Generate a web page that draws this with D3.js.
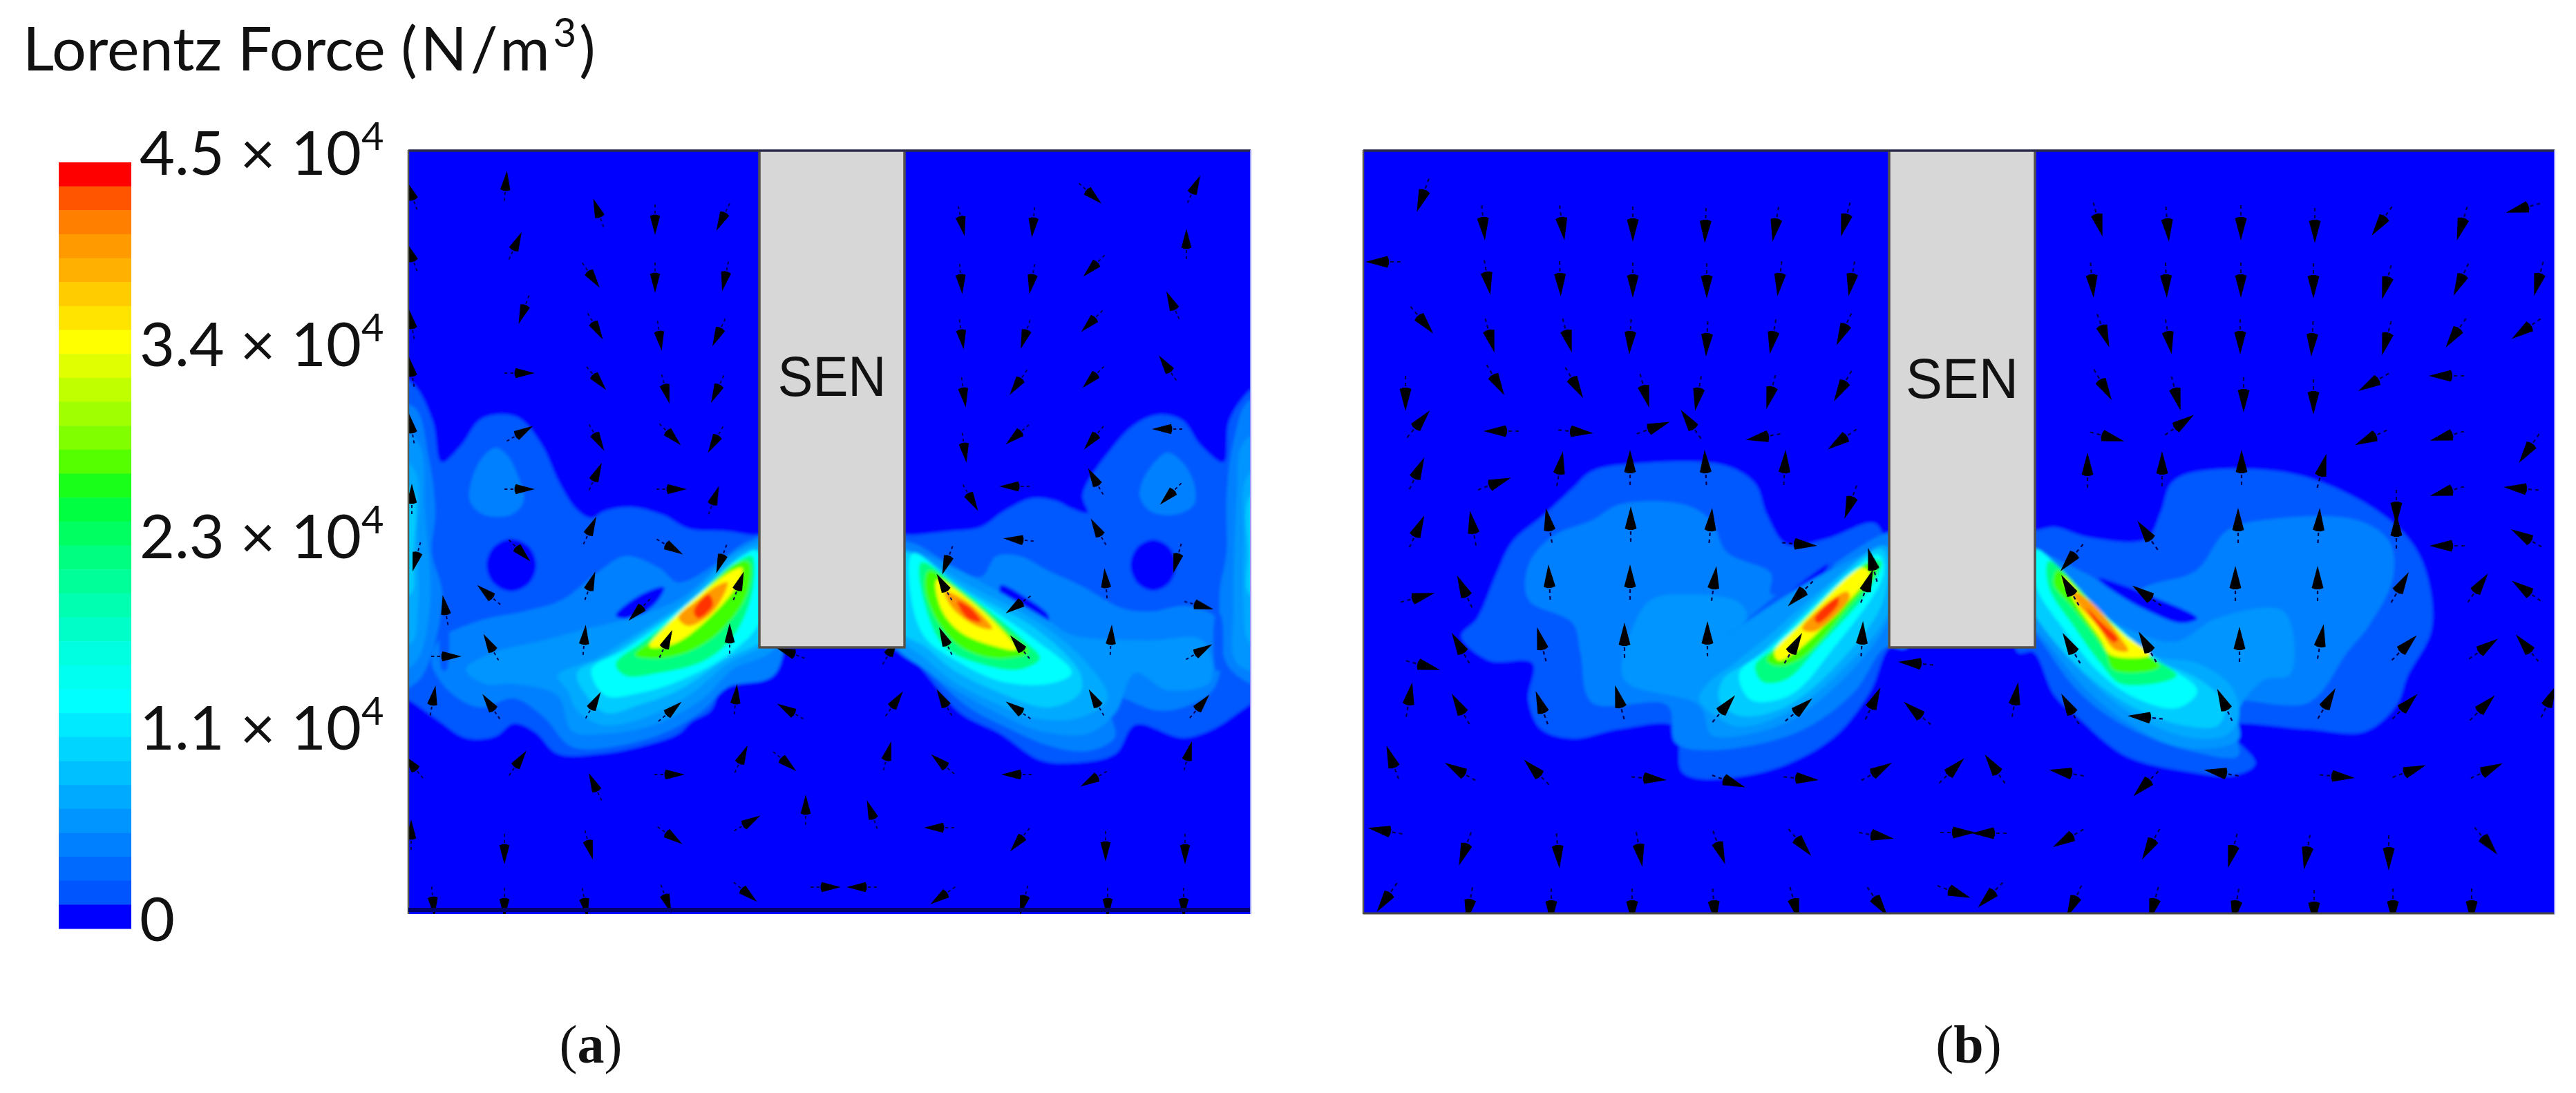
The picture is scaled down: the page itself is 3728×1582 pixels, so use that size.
<!DOCTYPE html>
<html><head><meta charset="utf-8">
<script src="https://cdn.jsdelivr.net/npm/d3@7"></script>
<style>html,body{margin:0;padding:0;background:#fff}svg{display:block}</style>
</head><body><div id="chart"></div>
<script>
const bandColors = ["#ff0000","#ff5500","#ff8000","#ff9a00","#ffb000","#ffcc00","#ffe400","#ffff00",
 "#e0ff00","#c0ff00","#a0ff00","#80ff00","#55ff00","#1aff1a","#00ff40","#00ff60","#00ff80","#00ff99",
 "#00ffb0","#00ffc8","#00ffe0","#00fff0","#00ffff","#00eaff","#00d5ff","#00c0ff","#00aaff","#0095ff",
 "#0080ff","#006aff","#0055ff","#0000ff"];
const tickLabels = ["0","1.1","2.3","3.4","4.5"];
const tickExponents = ["","4","4","4","4"];
const titleParts = ["Lorentz Force ","(N/m","3",")"];
const panelLabels = ["a","b"];
const insertLabel = "SEN";
// contour level colours: level 0 is the background value
const levelColors = ["#0000ff","#0058ff","#0080ff","#0095ff","#00aaff","#00ccff","#00ffff","#00ff80","#40ff00","#ffff00","#ff9900","#ff3000"];

// ---- iso-value outlines [level, [[x,y]...]], in picture coordinates
const fieldA = [
 [1,[[560,540],[597,555],[626,609],[639,669],[668,644],[693,609],[718,600],[751,605],[784,644],[809,698],[834,737],[856,750],[874,740],[912,734],[961,746],[996,765],[1053,769],[1084,774],[1125,780],[1125,940],[1100,940],[1075,965],[1046,986],[1029,1028],[1000,1045],[982,1062],[933,1079],[870,1091],[807,1091],[775,1060],[744,1047],[716,1066],[674,1068],[632,1041],[591,1013],[560,1000]]],
 [1,[[1850,540],[1810,564],[1779,609],[1771,669],[1737,644],[1712,609],[1679,600],[1646,612],[1613,644],[1567,716],[1574,742],[1551,736],[1528,725],[1494,721],[1453,740],[1419,763],[1373,769],[1327,774],[1285,780],[1285,940],[1310,940],[1339,974],[1390,1032],[1448,1062],[1505,1100],[1557,1104],[1614,1091],[1643,1049],[1712,1068],[1758,1054],[1809,1020],[1850,1000]]],
 [0,[[704,818],[714,792],[740,780],[766,792],[776,818],[766,844],[740,856],[714,844]]],
 [0,[[1636,818],[1646,792],[1669,781],[1692,792],[1702,818],[1692,844],[1669,855],[1646,844]]],
 [2,[[684,690],[700,660],[718,648],[735,660],[750,690],[758,725],[740,745],[700,745],[680,725]]],
 [2,[[1652,700],[1670,670],[1690,655],[1712,670],[1728,700],[1728,730],[1700,745],[1665,740],[1650,720]]],
 [2,[[560,590],[600,590],[620,660],[630,740],[625,800],[640,860],[620,960],[600,990],[560,1000]]],
 [2,[[1850,590],[1808,580],[1785,640],[1775,720],[1775,800],[1765,860],[1775,960],[1810,990],[1850,1000]]],
 [3,[[560,620],[605,640],[615,740],[622,880],[600,960],[560,970]]],
 [3,[[1850,620],[1800,640],[1790,720],[1785,880],[1790,960],[1850,970]]],
 [4,[[560,660],[600,680],[604,780],[605,880],[596,930],[560,940]]],
 [4,[[1850,660],[1805,690],[1800,780],[1800,880],[1808,930],[1850,940]]],
 [5,[[560,690],[597,710],[598,800],[594,860],[560,860]]],
 [5,[[1850,690],[1808,720],[1806,800],[1808,860],[1850,860]]],
 [2,[[635,927],[695,898],[758,885],[814,868],[863,830],[905,805],[954,822],[982,843],[1039,814],[1081,784],[1123,776],[1123,974],[1053,995],[1018,1028],[968,1058],[898,1079],[828,1081],[786,1037],[744,1011],[695,1024],[653,1003],[625,961]]],
 [2,[[1321,786],[1380,820],[1420,835],[1442,805],[1476,805],[1517,826],[1563,847],[1626,881],[1666,885],[1718,877],[1763,898],[1758,995],[1712,1024],[1672,1028],[1597,1003],[1614,1066],[1574,1087],[1517,1079],[1459,1054],[1402,1024],[1339,969],[1290,930],[1290,786]]],
 [0,[[891,891],[925,862],[961,850],[950,872],[915,895]]],
 [0,[[1448,847],[1485,865],[1517,890],[1517,900],[1480,895],[1450,868]]],
 [1,[[640,889],[646,889],[646,970],[640,970]]],
 [1,[[1760,889],[1766,889],[1766,970],[1760,970]]],
 [0,[[1088,898],[1110,898],[1110,936],[1088,930]]],
 [0,[[1300,906],[1324,906],[1324,927],[1300,930]]],
 [3,[[674,969],[716,944],[786,927],[849,910],[898,898],[982,868],[1067,797],[1123,780],[1123,936],[1060,969],[1018,1011],[947,1049],[877,1062],[828,1058],[807,1007],[744,990],[702,990]]],
 [3,[[1300,797],[1321,797],[1413,839],[1517,898],[1551,919],[1660,927],[1740,927],[1752,986],[1689,999],[1643,974],[1614,1032],[1574,1062],[1505,1058],[1453,1037],[1390,1003],[1339,969],[1300,936]]],
 [4,[[807,978],[863,953],[905,927],[982,877],[1074,797],[1123,790],[1123,919],[1053,961],[996,1007],[926,1041],[870,1049],[835,1028],[821,999]]],
 [4,[[1300,801],[1321,801],[1402,847],[1505,902],[1574,961],[1603,1011],[1568,1037],[1505,1041],[1436,1016],[1379,986],[1339,953],[1300,919]]],
 [5,[[835,974],[884,948],[933,915],[989,877],[1081,801],[1123,801],[1123,910],[1046,957],[982,999],[926,1020],[877,1032],[849,1007]]],
 [5,[[1300,801],[1321,801],[1402,856],[1499,910],[1563,974],[1563,1003],[1517,1024],[1448,1003],[1379,969],[1339,936],[1300,910]]],
 [6,[[856,969],[905,940],[954,906],[996,873],[1074,805],[1095,797],[1100,898],[1053,948],[982,986],[926,1003],[877,1007]]],
 [6,[[1321,801],[1390,852],[1494,923],[1551,974],[1517,990],[1448,986],[1385,957],[1339,923],[1319,868]]],
 [7,[[891,961],[933,927],[975,894],[1011,864],[1074,809],[1088,805],[1088,860],[1060,923],[1018,957],[954,974],[905,978]]],
 [7,[[1333,814],[1390,852],[1482,927],[1505,953],[1476,969],[1419,961],[1367,936],[1339,877]]],
 [8,[[919,948],[954,919],[996,877],[1067,814],[1084,814],[1081,860],[1046,910],[1004,940],[954,953]]],
 [8,[[1344,826],[1390,856],[1459,915],[1488,944],[1442,953],[1390,936],[1356,898],[1339,852]]],
 [9,[[940,936],[968,902],[1004,868],[1060,826],[1074,822],[1067,847],[1018,902],[975,932]]],
 [9,[[1356,839],[1402,868],[1453,915],[1471,940],[1442,936],[1390,915],[1362,881]]],
 [10,[[982,894],[1011,868],[1039,847],[1053,843],[1032,885],[996,906]]],
 [10,[[1367,856],[1402,873],[1436,910],[1413,906],[1379,881]]],
 [11,[[1004,885],[1025,860],[1032,875],[1011,895]]],
 [11,[[1385,870],[1405,880],[1420,900],[1400,895]]]
];
const fieldB = [
 [1,[[2367,671],[2494,673],[2540,700],[2557,745],[2586,788],[2643,780],[2712,757],[2732,780],[2760,780],[2760,937],[2735,937],[2706,1002],[2649,1071],[2545,1119],[2436,1119],[2425,1052],[2344,1055],[2276,1069],[2230,1055],[2212,1013],[2218,960],[2155,956],[2115,921],[2138,895],[2166,830],[2189,784],[2235,745],[2276,707],[2304,682]]],
 [1,[[2920,768],[2945,768],[2973,763],[3024,778],[3106,780],[3127,742],[3142,700],[3172,684],[3310,684],[3412,722],[3479,772],[3509,822],[3519,910],[3484,979],[3468,1021],[3422,1059],[3336,1055],[3223,1052],[3264,1105],[3234,1122],[3167,1117],[3076,1094],[3009,1040],[2973,1006],[2943,944],[2920,944]]],
 [2,[[2344,730],[2436,730],[2476,753],[2499,799],[2563,830],[2563,860],[2631,830],[2729,772],[2760,772],[2760,937],[2729,937],[2683,1002],[2603,1059],[2476,1086],[2425,1075],[2413,1021],[2304,1017],[2287,944],[2276,902],[2212,868],[2212,818],[2247,776],[2304,753]]],
 [2,[[3116,845],[3178,826],[3223,768],[3290,751],[3412,753],[3458,784],[3463,837],[3428,906],[3397,944],[3341,1017],[3223,1017],[3234,1059],[3239,1094],[3167,1086],[3070,1048],[3009,1002],[2963,941],[2930,887],[2930,799],[3019,830],[3070,860]]],
 [1,[[2517,914],[2560,870],[2640,810],[2660,800],[2640,840],[2570,890],[2530,925]]],
 [0,[[2583,868],[2646,816],[2637,833],[2591,872]]],
 [0,[[3037,837],[3116,864],[3180,895],[3157,902],[3106,883],[3065,860]]],
 [3,[[2390,868],[2431,860],[2517,872],[2528,895],[2499,918],[2640,830],[2729,799],[2735,891],[2660,990],[2580,1048],[2499,1067],[2476,1063],[2459,1021],[2350,983],[2367,899]]],
 [3,[[3208,895],[3305,885],[3315,975],[3275,985],[3239,1030],[3239,1071],[3157,1082],[3076,1044],[3019,998],[2968,937],[2930,887],[2930,830],[3055,899],[3147,929]]],
 [4,[[2471,990],[2510,960],[2560,920],[2640,850],[2729,790],[2735,880],[2660,975],[2586,1032],[2517,1052],[2488,1040],[2459,1013]]],
 [4,[[2930,810],[3040,900],[3120,950],[3180,960],[3230,995],[3240,1040],[3220,1065],[3157,1065],[3080,1030],[3020,980],[2970,920],[2930,870]]],
 [5,[[2494,983],[2540,952],[2723,795],[2726,868],[2654,967],[2580,1025],[2517,1036],[2488,1013]]],
 [5,[[2930,800],[3040,895],[3110,950],[3185,985],[3220,1020],[3210,1050],[3160,1050],[3090,1025],[3030,985],[2970,925],[2930,860]]],
 [6,[[2517,975],[2563,937],[2718,803],[2726,830],[2649,944],[2591,1006],[2534,1013]]],
 [6,[[2945,795],[3040,885],[3115,950],[3180,1000],[3150,1025],[3090,1010],[3040,975],[2990,915],[2945,845]]],
 [7,[[2540,964],[2574,933],[2712,810],[2723,814],[2700,860],[2631,937],[2586,983],[2551,987]]],
 [7,[[2965,812],[3040,885],[3105,945],[3150,978],[3070,990],[3040,960],[3000,905],[2965,850]]],
 [8,[[2557,956],[2580,929],[2706,814],[2715,826],[2672,883],[2608,952],[2574,964]]],
 [8,[[2978,825],[3030,875],[3085,930],[3125,965],[3060,970],[3045,940],[3000,880],[2972,845]]],
 [9,[[2568,944],[2608,902],[2695,822],[2706,830],[2654,891],[2603,940],[2574,956]]],
 [9,[[2985,835],[3030,880],[3075,920],[3112,948],[3055,948],[3040,925],[3005,875]]],
 [10,[[2608,910],[2672,856],[2677,864],[2626,914]]],
 [10,[[2998,855],[3030,875],[3070,925],[3080,942],[3060,940],[3035,905],[3008,875]]],
 [11,[[2626,895],[2660,864],[2660,875],[2631,902]]],
 [11,[[3020,880],[3040,900],[3065,925],[3060,930],[3035,905]]]
];

// ---- force vectors [x, y, heading in degrees clockwise from up]
const arrowsA = [
 [595,280,-20],[732,266,5],[865,305,-20],[948,321,180],[1045,317,206],[1392,323,168],[1495,325,185],[1580,282,132],[1729,271,25],
 [595,369,-20],[747,353,25],[857,401,145],[948,405,180],[1049,403,192],[1391,407,175],[1493,407,190],[1581,387,225],[1717,350,0],
 [595,466,-10],[757,451,200],[863,475,150],[955,489,172],[1039,484,205],[1392,487,172],[1483,487,198],[1578,467,225],[1696,439,-25],
 [595,535,-10],[755,540,90],[865,550,140],[964,566,165],[1037,566,205],[1395,571,172],[1472,556,215],[1580,548,225],[1688,530,-35],
 [595,617,-10],[755,626,60],[865,636,150],[972,631,135],[1034,639,210],[1396,651,172],[1470,631,230],[1581,636,220],[1686,621,270],
 [596,719,0],[755,708,90],[863,687,25],[975,708,90],[1034,721,20],[1406,723,150],[1465,704,270],[1584,694,-30],[1692,717,225],
 [602,809,195],[855,765,25],[972,793,120],[1043,812,200],[754,799,135],[1370,814,200],[1471,781,275],[1588,767,-30],[1703,811,195],[1600,841,-5],
 [705,859,-50],[855,845,20],[923,885,225],[1070,845,20],[1365,847,-30],[1471,877,235],[1738,877,105],
 [644,880,-10],[649,950,90],[709,934,-30],[846,923,5],[965,929,25],[1056,921,0],[1367,925,-25],[1474,934,-40],[1608,923,3],[1738,942,60],[1141,944,290],[1290,940,30],
 [627,1011,10],[709,1020,-35],[860,1018,30],[972,1028,50],[1065,1009,5],[1141,1028,-60],[1296,1016,35],[1365,1014,-30],[1471,1026,-55],[1585,1014,-30],[1738,1020,40],
 [596,1107,-40],[751,1102,35],[972,1121,90],[860,1136,-25],[1074,1096,25],[1138,1104,130],[1285,1091,15],[1362,1104,-50],[1468,1121,270],[1580,1129,240],[1720,1091,15],
 [595,1205,0],[730,1232,180],[853,1226,165],[972,1211,125],[1084,1190,60],[1166,1169,0],[1261,1176,-20],[1356,1198,270],[1474,1218,220],[1600,1228,180],[1715,1232,180],
 [627,1308,175],[730,1310,180],[847,1310,170],[965,1304,160],[1081,1293,130],[1198,1284,90],[1244,1284,270],[1362,1298,235],[1481,1306,195],[1603,1310,180],[1713,1310,180]
];
const arrowsB = [
 [2058,286,200],[2147,326,175],[2261,326,172],[2363,328,180],[2468,330,182],[2569,328,190],[2670,321,195],[3037,321,165],[3137,328,175],[3243,326,180],[3350,330,180],[3445,323,215],[3562,327,197],[3648,302,255],
 [1998,379,270],[2153,405,170],[2258,407,178],[2363,409,180],[2470,410,180],[2575,407,187],[2679,407,190],[3028,409,175],[3135,409,178],[3243,409,180],[3348,410,180],[3453,412,195],[3560,408,205],[3673,407,195],
 [2060,466,140],[2157,489,165],[2269,489,165],[2359,491,183],[2470,494,183],[2565,491,190],[2667,480,205],[3045,482,160],[3139,491,170],[3242,491,180],[3346,494,183],[3453,493,195],[3552,485,215],[3653,478,235],
 [2034,573,180],[2166,553,150],[2280,557,150],[2381,569,165],[2457,573,190],[2562,571,195],[2665,562,210],[3045,560,150],[3150,573,165],[3247,575,180],[3348,578,180],[3432,555,240],[3537,544,270],
 [2055,611,40],[2169,624,270],[2284,625,95],[2396,618,70],[2445,611,-35],[2548,633,260],[2663,638,235],[3053,633,105],[3157,613,55],[3428,635,245],[3538,632,255],[3658,652,215],
 [2052,682,25],[2166,699,70],[2258,675,10],[2359,673,0],[2468,673,-3],[2583,673,3],[2677,730,200],[3021,677,0],[3129,675,0],[3244,673,0],[3361,678,15],[3538,712,255],[3645,707,275],
 [2052,766,25],[2131,761,-10],[2241,757,-10],[2360,755,0],[2476,757,5],[2608,788,95],[2709,814,-15],[3106,772,-35],[2996,810,220],[3239,757,0],[3356,757,3],[3468,738,180],[3468,765,0],[3538,790,270],[3653,777,300],
 [2055,864,75],[2118,853,-25],[2242,839,-3],[2359,839,0],[2481,841,8],[2603,862,225],[2703,845,20],[2994,851,-30],[3104,860,-55],[3235,841,0],[3354,841,0],[3475,847,30],[3588,848,35],[3653,853,305],
 [2112,935,-30],[2230,929,-15],[2351,923,0],[2471,921,0],[2597,935,30],[2695,921,3],[2996,935,-30],[3106,933,-30],[3241,929,0],[3359,925,10],[3482,935,45],[3597,937,55],[3655,935,320],
 [2063,964,105],[2769,960,275],[2040,1009,10],[2112,1023,-30],[2230,1021,-20],[2343,1013,-15],[2497,1023,40],[2606,1025,50],[2712,1015,25],[2772,1030,-50],[2917,1009,10],[2994,1023,-30],[3101,1038,275],[3218,1017,-25],[3369,1015,30],[3483,1020,45],[3595,1022,45],[3690,1012,25],
 [2014,1100,-20],[2110,1115,-60],[2221,1115,-45],[2390,1127,95],[2505,1132,110],[2610,1127,95],[2719,1115,60],[2827,1113,45],[2885,1110,-35],[2987,1118,280],[3103,1137,225],[3211,1118,280],[3386,1124,95],[3490,1115,70],[3602,1114,65],
 [2001,1202,280],[2119,1232,200],[2255,1235,175],[2373,1233,170],[2489,1230,160],[2607,1222,140],[2719,1210,100],[2837,1205,90],[2875,1206,270],[2990,1215,240],[3111,1225,210],[3230,1235,195],[3338,1237,190],[3457,1238,180],[3600,1220,140],
 [2005,1302,215],[2126,1313,190],[2245,1315,180],[2362,1315,180],[2481,1315,175],[2598,1312,165],[2719,1308,145],[2831,1292,110],[2878,1298,225],[3000,1308,205],[3116,1312,195],[3235,1315,190],[3349,1317,180],[3463,1315,180],[3577,1315,180]
];

// ---- layout
const W = 3728, H = 1582;
const layout = {top:217, bottom:1323,
  a:{left:591,right:1810,senL:1099,senR:1309,senB:937,label:855,labelY:1538,senW:157,senY:573,arrowScale:0.86},
  b:{left:1973,right:3697,senL:2734,senR:2945,senB:937,label:2849,labelY:1538,senW:163,senY:576,arrowScale:1}};
const bar = {left:85,right:190,top:235,bottom:1344,textX:202};

const svg = d3.select("#chart").append("svg").attr("width",W).attr("height",H).attr("viewBox",[0,0,W,H]);
const defs = svg.append("defs");
defs.append("filter").attr("id","soft").attr("filterUnits","userSpaceOnUse")
  .attr("x",0).attr("y",0).attr("width",W).attr("height",H)
  .append("feGaussianBlur").attr("stdDeviation",2.2);
defs.append("filter").attr("id","softArrow").attr("filterUnits","userSpaceOnUse")
  .attr("x",0).attr("y",0).attr("width",W).attr("height",H)
  .append("feGaussianBlur").attr("stdDeviation",0.7);

const sansFont = "Lato, 'Open Sans', sans-serif";

// ---- title
const title = svg.append("text").attr("x",33).attr("y",102)
  .attr("font-family",sansFont).attr("font-size",88).attr("fill","#111");
title.append("tspan").text(titleParts[0]);
title.append("tspan").attr("letter-spacing",5).text(titleParts[1]);
title.append("tspan").attr("font-size",58).attr("dy",-34).text(titleParts[2]);
title.append("tspan").attr("dy",34).attr("dx",4).text(titleParts[3]);

// ---- colour legend
const bandScale = d3.scaleBand().domain(d3.range(bandColors.length)).range([bar.top,bar.bottom]).paddingInner(0).paddingOuter(0);
svg.append("g").selectAll("rect").data(bandColors).join("rect")
  .attr("x",bar.left).attr("width",bar.right-bar.left)
  .attr("y",(d,i)=>bandScale(i)).attr("height",bandScale.bandwidth()+0.5).attr("fill",d=>d);
const tickScale = d3.scalePoint().domain(tickLabels).range([1362,253]);
const ticks = svg.append("g").attr("font-family",sansFont).attr("font-size",88).attr("fill","#111");
tickLabels.forEach((t,i)=>{
  const el = ticks.append("text").attr("x",bar.textX).attr("y",tickScale(t));
  el.append("tspan").text(tickExponents[i] ? t+" × 10" : t);
  if (tickExponents[i]) el.append("tspan").attr("font-size",56).attr("dy",-36).text(tickExponents[i]);
});

// ---- panels
function drawPanel(key, field, arrows, idx){
  const p = layout[key];
  const x = d3.scaleLinear().domain([p.left,p.right]).range([p.left,p.right]);
  const y = d3.scaleLinear().domain([layout.top,layout.bottom]).range([layout.top,layout.bottom]);
  const color = d3.scaleOrdinal().domain(d3.range(levelColors.length)).range(levelColors);
  const clipId = "clip-"+key;
  defs.append("clipPath").attr("id",clipId).append("rect")
    .attr("x",x(p.left)).attr("y",y(layout.top)).attr("width",x(p.right)-x(p.left)).attr("height",y(layout.bottom)-y(layout.top));
  const g = svg.append("g").attr("clip-path",`url(#${clipId})`);
  const soft = g.append("g").attr("filter","url(#soft)");
  soft.append("rect").attr("x",x(p.left)-30).attr("y",y(layout.top)-30)
    .attr("width",x(p.right)-x(p.left)+60).attr("height",y(layout.bottom)-y(layout.top)+60).attr("fill",color(0));
  const line = d3.line().x(d=>x(d[0])).y(d=>y(d[1])).curve(d3.curveCatmullRomClosed.alpha(0.5));
  soft.selectAll("path").data(field).join("path").attr("d",d=>line(d[1])).attr("fill",d=>color(d[0]));

  const arrowG = g.append("g").attr("filter","url(#softArrow)");
  const head = d3.line()([[0,-22],[8.5,10],[3,12],[-3,12],[-8.5,10]])+"Z";
  const mark = arrowG.selectAll("g").data(arrows).join("g")
    .attr("transform",d=>`translate(${x(d[0])},${y(d[1])}) rotate(${d[2]}) scale(${p.arrowScale})`);
  mark.append("path").attr("d",head).attr("fill","#000");
  mark.append("line").attr("x1",0).attr("x2",0).attr("y1",14).attr("y2",32)
    .attr("stroke","#06064e").attr("stroke-width",2.2).attr("stroke-dasharray","5 5");

  // insert nozzle
  const sen = svg.append("g");
  sen.append("rect").attr("x",x(p.senL)).attr("y",y(layout.top)).attr("width",x(p.senR)-x(p.senL)).attr("height",y(p.senB)-y(layout.top))
    .attr("fill","#d7d7d7");
  const edge = d3.line().x(d=>x(d[0])).y(d=>y(d[1]));
  sen.append("path").attr("d",edge([[p.senL,layout.top],[p.senL,p.senB],[p.senR,p.senB],[p.senR,layout.top]]))
    .attr("fill","none").attr("stroke","#55524e").attr("stroke-width",3.5);
  sen.append("text").attr("x",(x(p.senL)+x(p.senR))/2).attr("y",y(p.senY)).attr("text-anchor","middle")
    .attr("font-family","'Liberation Sans',Arial,sans-serif").attr("font-size",82).attr("fill","#111")
    .attr("textLength",p.senW).attr("lengthAdjust","spacingAndGlyphs").text(insertLabel);

  // frame
  const frame = svg.append("g");
  frame.append("line").attr("x1",x(p.left)).attr("x2",x(p.right)).attr("y1",y(layout.top)+1).attr("y2",y(layout.top)+1)
    .attr("stroke","#2a2a4a").attr("stroke-width",3.5);
  frame.append("line").attr("x1",x(p.left)).attr("x2",x(p.left)).attr("y1",y(layout.top)).attr("y2",y(layout.bottom))
    .attr("stroke","#5a5a50").attr("stroke-width",2.5);
  frame.append("line").attr("x1",x(p.left)).attr("x2",x(p.right)).attr("y1",key==="a"?y(layout.bottom)-6:y(layout.bottom)-1).attr("y2",key==="a"?y(layout.bottom)-6:y(layout.bottom)-1)
    .attr("stroke",key==="a"?"#00006a":"#4a4a44").attr("stroke-width",key==="a"?6:3);
  frame.append("line").attr("x1",x(p.right)).attr("x2",x(p.right)).attr("y1",y(layout.top)).attr("y2",y(layout.bottom))
    .attr("stroke","#9a9aff").attr("stroke-width",2);

  // sub-figure label
  const lab = svg.append("text").attr("x",x(p.label)).attr("y",y(p.labelY)).attr("text-anchor","middle")
    .attr("font-family","'Liberation Serif','Times New Roman',serif").attr("font-size",78).attr("fill","#111");
  lab.append("tspan").text("(");
  lab.append("tspan").attr("font-weight","bold").text(panelLabels[idx]);
  lab.append("tspan").text(")");
}
drawPanel("a",fieldA,arrowsA,0);
drawPanel("b",fieldB,arrowsB,1);
</script></body></html>
